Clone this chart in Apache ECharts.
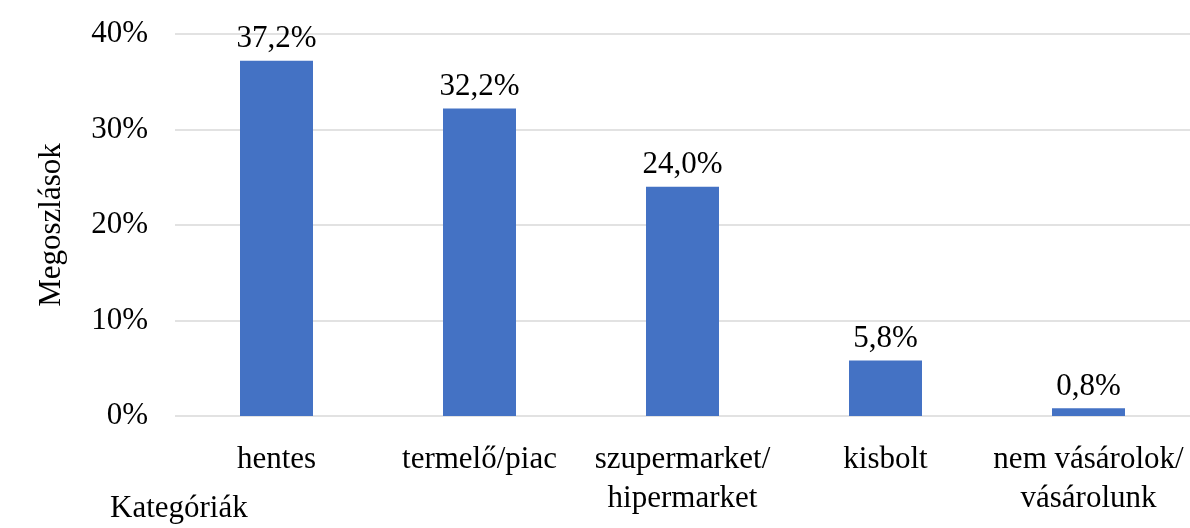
<!DOCTYPE html>
<html>
<head>
<meta charset="utf-8">
<script src="https://cdn.jsdelivr.net/npm/echarts@6/dist/echarts.min.js"></script>
<style>html,body{margin:0;padding:0;background:#fff}#c{width:1190px;height:528px}</style>
</head>
<body>
<div id="c"></div>
<script>
const categories = ['hentes', 'termelő/piac', 'szupermarket/\nhipermarket', 'kisbolt', 'nem vásárolok/\nvásárolunk'];
const values = [37.2, 32.2, 24.0, 5.8, 0.8];
const yTicks = [0, 10, 20, 30, 40];
const yAxisTitle = 'Megoszlások';
const xAxisTitle = 'Kategóriák';

const font = '"Liberation Serif", "Times New Roman", serif';
const chart = echarts.init(document.getElementById('c'));
chart.setOption({
  animation: false,
  title: {
    text: xAxisTitle,
    left: 110,
    top: 492,
    padding: 0,
    textStyle: { color: '#000', fontFamily: font, fontSize: 31, fontWeight: 'normal', lineHeight: 34 }
  },
  grid: { left: 175, right: -2, top: 34, bottom: 112, containLabel: false },
  xAxis: {
    type: 'category',
    data: categories,
    axisLine: { show: false },
    axisTick: { show: false },
    axisLabel: { color: '#000', fontFamily: font, fontSize: 31, lineHeight: 39, margin: 24, interval: 0 }
  },
  yAxis: {
    type: 'value',
    min: yTicks[0],
    max: yTicks[yTicks.length - 1],
    interval: 10,
    axisLine: { show: false },
    axisTick: { show: false },
    splitLine: { lineStyle: { color: '#d9d9d9', width: 1.5 } },
    axisLabel: { color: '#000', fontFamily: font, fontSize: 31, margin: 27, formatter: v => v + '%' },
    name: yAxisTitle,
    nameLocation: 'middle',
    nameRotate: 90,
    nameGap: 108,
    nameTextStyle: { color: '#000', fontFamily: font, fontSize: 31 }
  },
  series: [{
    type: 'bar',
    data: values,
    barWidth: 73,
    itemStyle: { color: '#4472C4' },
    label: {
      show: true,
      position: 'top',
      distance: 6,
      color: '#000',
      fontFamily: font,
      fontSize: 31,
      formatter: p => p.value.toFixed(1).replace('.', ',') + '%'
    }
  }]
});
</script>
</body>
</html>
